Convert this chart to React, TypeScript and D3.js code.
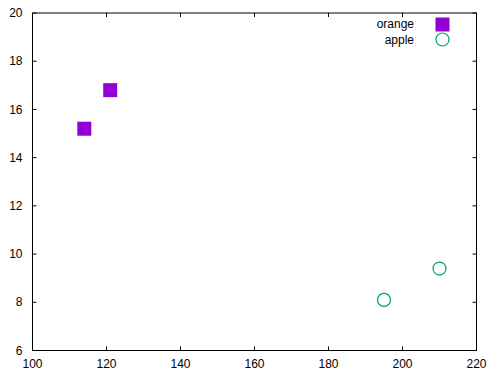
import React from "react";
import { scaleLinear, range } from "d3";

const orangeX = [114, 121];
const orangeY = [15.2, 16.8];
const appleX = [195, 210];
const appleY = [8.1, 9.4];
const xTicks = range(100, 221, 20);
const yTicks = range(6, 21, 2);

const App = () => {
  const width = 489;
  const height = 372;
  const margin = { top: 13, right: 12.5, bottom: 21.5, left: 32.5 };
  const innerWidth = width - margin.left - margin.right;
  const innerHeight = height - margin.top - margin.bottom;

  const xScale = scaleLinear().domain([100, 220]).range([0, innerWidth]);
  const yScale = scaleLinear().domain([6, 20]).range([innerHeight, 0]);
  const tick = 4;
  const font = "'Liberation Sans', Arial, sans-serif";
  const purple = "#9400d3";
  const green = "#009e73";
  const sq = 14;

  return (
    <svg
      width={width}
      height={height}
      style={{ position: "absolute", left: 0, top: 0 }}
      fontFamily={font}
      fontSize={12}
    >
      <rect width={width} height={height} fill="#fff" />
      <g transform={`translate(${margin.left},${margin.top})`}>
        {xTicks.map((t) => (
          <g key={"x" + t}>
            <line x1={xScale(t)} x2={xScale(t)} y1={innerHeight} y2={innerHeight - tick} stroke="#000" />
            <line x1={xScale(t)} x2={xScale(t)} y1={0} y2={tick} stroke="#000" />
            <text x={xScale(t)} y={innerHeight + 17} textAnchor="middle" fill="#000">
              {t}
            </text>
          </g>
        ))}
        {yTicks.map((t) => (
          <g key={"y" + t}>
            <line x1={0} x2={tick} y1={yScale(t)} y2={yScale(t)} stroke="#000" />
            <line x1={innerWidth} x2={innerWidth - tick} y1={yScale(t)} y2={yScale(t)} stroke="#000" />
            <text x={-10} y={yScale(t)} dy="0.35em" textAnchor="end" fill="#000">
              {t}
            </text>
          </g>
        ))}
        <rect x={0} y={0} width={innerWidth} height={innerHeight} fill="none" stroke="#000" />

        {orangeX.map((x, i) => (
          <rect
            key={"o" + i}
            x={xScale(x) - sq / 2}
            y={yScale(orangeY[i]) - sq / 2}
            width={sq}
            height={sq}
            fill={purple}
          />
        ))}
        {appleX.map((x, i) => (
          <circle
            key={"a" + i}
            cx={xScale(x)}
            cy={yScale(appleY[i])}
            r={6.5}
            fill="none"
            stroke={green}
            strokeWidth={1.2}
          />
        ))}
      </g>

      {/* legend */}
      <text x={414} y={24} dy="0.35em" textAnchor="end" fill="#000">orange</text>
      <rect x={442.5 - sq / 2} y={24.5 - sq / 2} width={sq} height={sq} fill={purple} />
      <text x={414} y={39.5} dy="0.35em" textAnchor="end" fill="#000">apple</text>
      <circle cx={442.5} cy={39.5} r={6.5} fill="none" stroke={green} strokeWidth={1.2} />
    </svg>
  );
};

export default App;
